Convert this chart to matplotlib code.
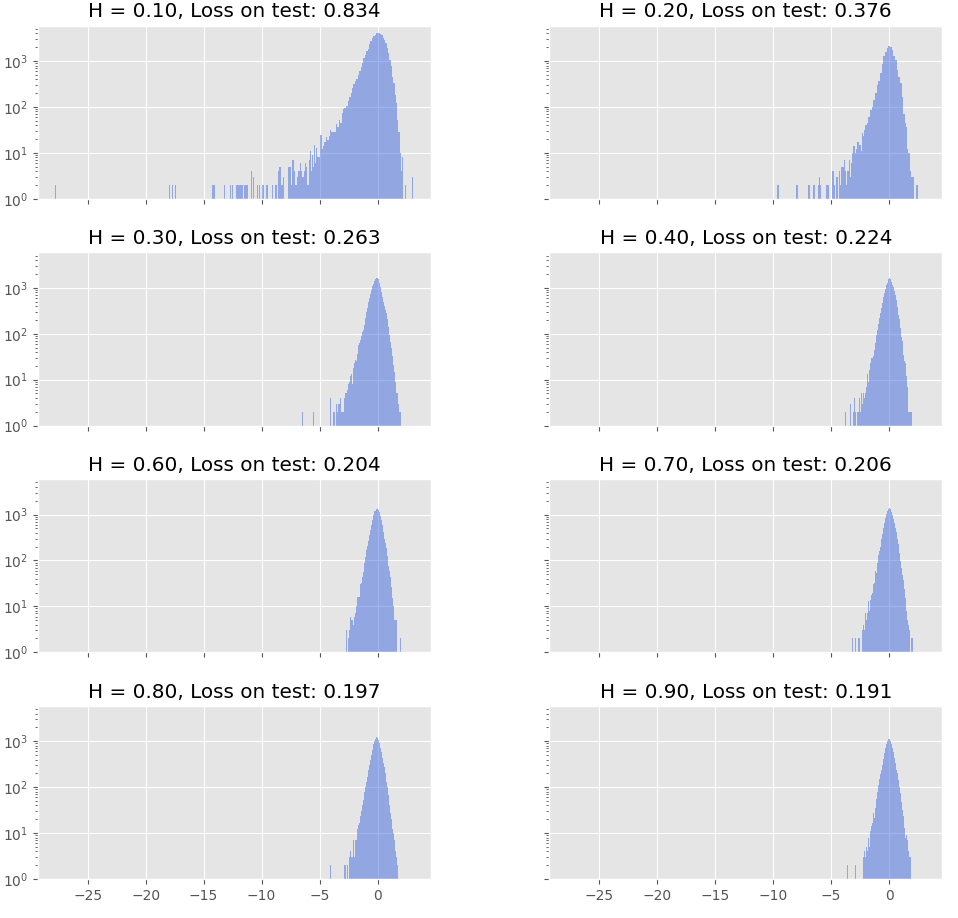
import numpy as np
import matplotlib
matplotlib.use("Agg")
import matplotlib.pyplot as plt

plt.style.use("ggplot")

# ---------------- data ----------------
H_values = [0.10, 0.20, 0.30, 0.40, 0.60, 0.70, 0.80, 0.90]
test_loss = [0.834, 0.376, 0.263, 0.224, 0.204, 0.206, 0.197, 0.191]

# H = 0.10 : bin centres and counts
x_h10 = [-27.78, -17.94, -17.69, -17.43, -14.2, -14.1, -13.21, -12.66, -12.51, -12.14,
         -11.97, -11.88, -11.68, -11.48, -11.34, -11.25, -10.88, -10.70, -10.36, -10.19,
         -9.93, -9.84, -9.55, -9.04, -8.81, -8.72, -8.52,
         -8.39, -8.25, -8.1, -7.67, -7.53, -7.39, -7.3, -7.18, -7.04, -6.9,
         -6.78, -6.67, -6.55, -6.44, -6.32, -6.21, -6.09, -6.0, -5.89, -5.8,
         -5.72, -5.6, -5.52, -5.43, -5.34, -5.23, -5.14, -5.03, -4.89, -4.77,
         -4.66, -4.51, -4.4, -4.28, -4.17, -4.05, -3.94, -3.79, -3.65, -3.53,
         -3.42, -3.3, -3.16, -3.05, -2.93, -2.79, -2.64, -2.5, -2.39, -2.27,
         -2.16, -2.01, -1.9, -1.78, -1.64, -1.52, -1.41, -1.29, -1.18, -1.03,
         -0.92, -0.8, -0.69, -0.57, -0.43, -0.32, -0.2, -0.09, 0.03, 0.14,
         0.26, 0.37, 0.49, 0.6, 0.72, 0.83, 0.95, 1.06, 1.18, 1.29,
         1.41, 1.52, 1.64, 1.75, 1.84, 1.95, 2.04, 2.16, 2.41, 3.02]
n_h10 = [2, 2, 2, 2, 2, 2, 2, 2, 2, 2,
         2, 2, 2, 2, 2, 2, 4, 3, 2, 2,
         2, 2, 2, 2, 2, 2, 4,
         5, 2, 3, 5, 5, 2, 7, 4, 2, 3,
         4, 6, 4, 3, 4, 6, 5, 2, 7, 11,
         4, 9, 5, 15, 6, 13, 8, 8, 24, 12,
         14, 17, 22, 19, 23, 31, 29, 29, 29, 42,
         37, 52, 45, 73, 89, 93, 105, 135, 168, 200,
         255, 318, 370, 404, 500, 615, 760, 910, 1170, 1390,
         1640, 1850, 2300, 2800, 3200, 3480, 3780, 4040, 4100, 4100,
         3980, 3650, 3200, 2850, 2420, 1930, 1500, 1070, 790, 460,
         330, 183, 120, 52, 29, 10, 4, 8, 2, 3]

# H = 0.20 : bin centres and counts
x_h20 = [-9.57, -7.93, -6.9, -6.47, -6.06, -5.98, -5.9, -5.34, -5.26, -4.83,
         -4.74, -4.51, -4.25, -4.17, -4.05, -3.94, -3.82, -3.74, -3.65, -3.53,
         -3.45, -3.36, -3.28, -3.16, -3.02, -2.93, -2.82, -2.67, -2.5, -2.41,
         -2.3, -2.21, -2.1, -2.01, -1.87, -1.72, -1.58, -1.44, -1.29, -1.15,
         -1.0, -0.86, -0.72, -0.57, -0.43, -0.29, -0.14, 0.0, 0.14, 0.29,
         0.43, 0.57, 0.72, 0.86, 1.0, 1.15, 1.29, 1.44, 1.52, 1.58,
         1.72, 1.81, 1.93, 2.07, 2.41]
n_h20 = [2, 2, 2, 2, 2, 3, 2, 2, 2, 4,
         2, 3, 4, 2, 5, 5, 7, 4, 2, 4,
         7, 3, 6, 10, 14, 10, 12, 17, 15, 11,
         27, 23, 31, 40, 44, 61, 86, 98, 142, 200,
         294, 370, 545, 860, 1270, 1580, 1930, 2080, 2020, 1770,
         1300, 1070, 640, 445, 330, 168, 72, 44, 37, 12,
         10, 4, 3, 3, 2]

# H = 0.30 .. 0.90 : sparse tail bins + regular body (start, step, counts)
tail_x_h30 = [-6.47, -5.52, -4.05, -3.79, -3.71, -3.53, -3.45, -3.36, -3.28, -3.19, -3.10, -3.02, -2.93]
tail_n_h30 = [2, 2, 4, 2, 2, 3, 2, 3, 3, 4, 2, 2, 2]
body_start_h30 = -2.845
body_n_h30 = [4, 5, 5, 6, 8, 9, 12, 13, 8, 18,
              23, 27, 25, 37, 57, 64, 73, 89, 110, 120,
              154, 215, 300, 355, 500, 590, 750, 890, 1090, 1240,
              1420, 1580, 1600, 1600, 1520, 1280, 1050, 810, 640, 500,
              400, 330, 280, 205, 142, 94, 67, 48, 32, 21,
              15, 9, 5, 5, 3, 2, 2]

tail_x_h40 = [-3.79, -3.36, -3.10, -3.02, -2.93, -2.76, -2.67, -2.56, -2.47]
tail_n_h40 = [2, 3, 2, 4, 2, 2, 2, 4, 2]
body_start_h40 = -2.414
body_n_h40 = [5, 3, 5, 4, 5, 7, 13, 9, 16, 23,
              29, 30, 33, 44, 62, 94, 120, 162, 215, 280,
              355, 470, 620, 780, 920, 1140, 1280, 1520, 1630, 1580,
              1350, 1140, 1020, 860, 690, 540, 385, 255, 210, 130,
              86, 70, 34, 26, 23, 12, 7, 2, 2, 2,
              2]

tail_x_h60 = [-2.67, 1.98]
tail_n_h60 = [3, 2]
body_start_h60 = -2.529
body_n_h60 = [2, 3, 6, 5, 5, 4, 6, 7, 10, 16,
              16, 16, 30, 32, 43, 55, 86, 116, 168, 208,
              265, 360, 460, 585, 750, 980, 1200, 1200, 1350, 1350,
              1270, 1110, 930, 750, 595, 410, 300, 245, 185, 126,
              76, 59, 43, 26, 15, 10, 5, 5, 5]

tail_x_h70 = [-3.19, -2.93, -2.67, -2.59]
tail_n_h70 = [2, 2, 2, 2]
body_start_h70 = -2.328
body_n_h70 = [3, 4, 3, 7, 5, 7, 13, 8, 14, 18,
              20, 30, 33, 58, 52, 86, 133, 160, 200, 290,
              370, 520, 670, 860, 1020, 1200, 1300, 1420, 1300, 1160,
              980, 790, 670, 520, 410, 290, 225, 142, 98, 70,
              49, 37, 24, 15, 8, 5, 4, 3, 0, 2,
              2]

tail_x_h80 = [-4.05, -2.84, -2.76, -2.59]
tail_n_h80 = [2, 2, 2, 2]
body_start_h80 = -2.414
body_n_h80 = [3, 4, 3, 3, 7, 3, 7, 7, 12, 15,
              17, 23, 30, 41, 53, 78, 103, 128, 170, 240,
              305, 390, 510, 650, 860, 1030, 1150, 1210, 1190, 1070,
              900, 730, 580, 440, 330, 270, 200, 128, 103, 68,
              41, 27, 20, 12, 10, 7, 4, 3, 2]

tail_x_h90 = [-3.56, -2.93]
tail_n_h90 = [2, 2]
body_start_h90 = -2.241
body_n_h90 = [3, 4, 3, 5, 4, 8, 5, 11, 14, 17,
              27, 21, 35, 56, 80, 112, 150, 190, 240, 305,
              415, 550, 700, 860, 1010, 1100, 1120, 1010, 860, 700,
              580, 430, 330, 240, 200, 145, 103, 74, 48, 32,
              23, 13, 8, 9, 7, 4, 3, 3]

body_step = 0.0862
max_bin_width = [0.13, 0.15, 0.09, 0.09, 0.09, 0.09, 0.09, 0.09]


def panel(tail_x, tail_n, start, counts):
    bx = start + body_step * np.arange(len(counts))
    return list(tail_x) + list(bx), list(tail_n) + list(counts)


panels = [
    (x_h10, n_h10),
    (x_h20, n_h20),
    panel(tail_x_h30, tail_n_h30, body_start_h30, body_n_h30),
    panel(tail_x_h40, tail_n_h40, body_start_h40, body_n_h40),
    panel(tail_x_h60, tail_n_h60, body_start_h60, body_n_h60),
    panel(tail_x_h70, tail_n_h70, body_start_h70, body_n_h70),
    panel(tail_x_h80, tail_n_h80, body_start_h80, body_n_h80),
    panel(tail_x_h90, tail_n_h90, body_start_h90, body_n_h90),
]


def bin_edges(xc, wmax):
    xs = np.sort(np.asarray(xc, float))
    left = xs - wmax / 2
    right = xs + wmax / 2
    mid = (xs[1:] + xs[:-1]) / 2
    left[1:] = np.maximum(left[1:], mid)
    right[:-1] = np.minimum(right[:-1], mid)
    edges = [left[0]]
    for i in range(len(xs)):
        if left[i] > edges[-1] + 1e-9:
            edges.append(left[i])
        edges.append(right[i])
    return np.array(edges)


# ---------------- figure ----------------
fig, axes = plt.subplots(4, 2, figsize=(9.58, 9.18), dpi=100, sharex=True, sharey=True)
fig.subplots_adjust(left=0.0394, right=0.9837, bottom=0.0425, top=0.972,
                    wspace=0.301, hspace=0.31)

for ax, (xc, nc), h, loss, wmax in zip(axes.flat, panels, H_values, test_loss, max_bin_width):
    assert len(xc) == len(nc)
    edges = bin_edges(xc, wmax)
    ax.hist(xc, bins=edges, weights=nc, histtype="stepfilled", log=True,
            color="royalblue", alpha=0.5, linewidth=0)
    ax.set_title(f"H = {h:.2f}, Loss on test: {loss:.3f}")

axes[0, 0].set_yscale("log")
axes[0, 0].set_ylim(1, 5900)
axes[0, 0].set_xlim(-29.3, 4.6)
axes[0, 0].set_xticks([-25, -20, -15, -10, -5, 0])

fig.savefig("out.png", dpi=100)
